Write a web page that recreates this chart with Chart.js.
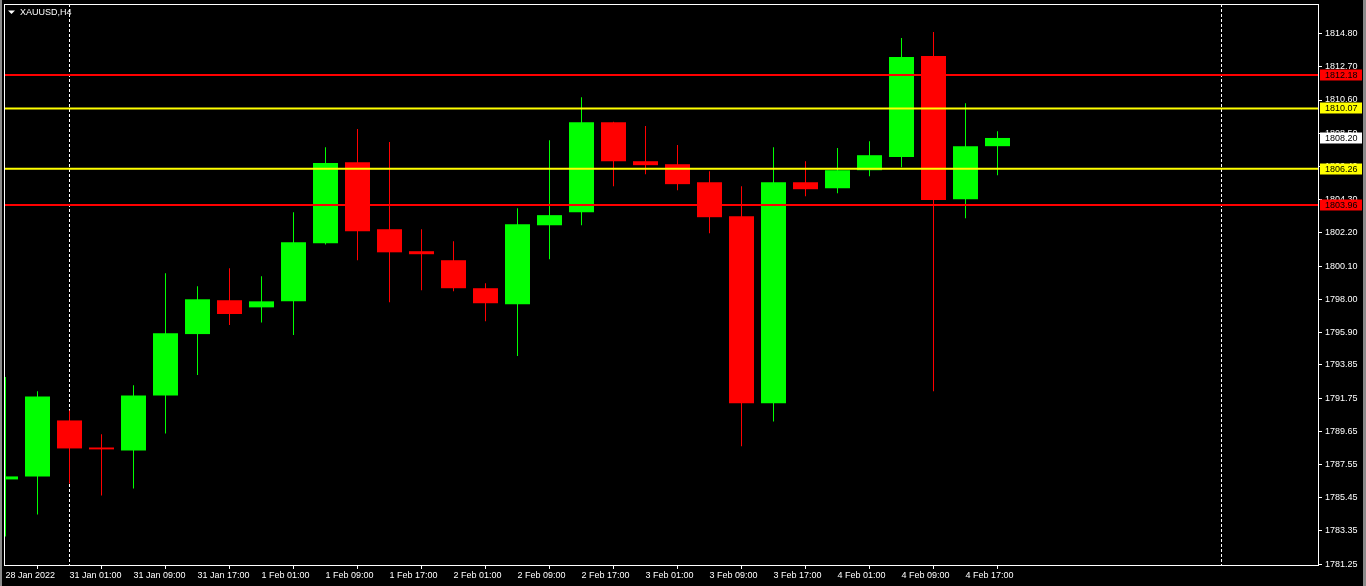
<!DOCTYPE html>
<html>
<head>
<meta charset="utf-8">
<script src="https://cdn.jsdelivr.net/npm/chart.js@4.4.0/dist/chart.umd.min.js"></script>
<style>
html,body{margin:0;padding:0;background:#000;overflow:hidden}
canvas{display:block}
</style>
</head>
<body>
<canvas id="c" width="1366" height="586"></canvas>
<script>
// ---- data ----
const symbolTitle = 'XAUUSD,H4';
const candleIndex = [0,1,2,3,4,5,6,7,8,9,10,11,12,13,14,15,16,17,18,19,20,21,22,23,24,25,26,27,28,29,30,31];
const opens  = [1786.61,1786.80,1790.34,1788.63,1788.44,1791.92,1795.80,1797.94,1797.49,1797.87,1801.54,1806.67,1802.43,1801.04,1800.47,1798.70,1797.68,1802.68,1803.51,1809.20,1806.73,1806.54,1805.40,1803.25,1791.42,1805.40,1805.02,1806.16,1806.99,1813.38,1804.33,1807.68];
const highs  = [1793.08,1792.18,1790.97,1789.46,1792.56,1799.65,1798.82,1799.96,1799.46,1803.51,1807.62,1808.76,1807.94,1802.43,1801.67,1799.01,1803.76,1808.06,1810.78,1809.22,1808.95,1807.75,1806.10,1805.15,1807.62,1806.73,1807.56,1808.00,1814.52,1814.90,1810.40,1808.63];
const lows   = [1783.00,1784.39,1786.35,1785.59,1786.04,1789.52,1793.21,1796.37,1796.54,1795.74,1801.46,1800.47,1797.81,1798.57,1798.51,1796.61,1794.41,1800.53,1802.68,1805.15,1805.91,1804.90,1802.18,1788.71,1790.28,1804.52,1804.71,1805.78,1806.35,1792.18,1803.13,1805.85];
const closes = [1786.80,1791.86,1788.57,1788.51,1791.92,1795.85,1798.00,1797.07,1797.87,1801.61,1806.61,1802.30,1800.97,1800.85,1798.70,1797.75,1802.75,1803.32,1809.20,1806.73,1806.48,1805.28,1803.19,1791.42,1805.40,1804.96,1806.16,1807.11,1813.32,1804.27,1807.68,1808.20];

const xTickIndex  = [0,2,4,6,8,10,12,14,16,18,20,22,24,26,28,30];
const xTickLabels = ['28 Jan 2022','31 Jan 01:00','31 Jan 09:00','31 Jan 17:00','1 Feb 01:00','1 Feb 09:00','1 Feb 17:00','2 Feb 01:00','2 Feb 09:00','2 Feb 17:00','3 Feb 01:00','3 Feb 09:00','3 Feb 17:00','4 Feb 01:00','4 Feb 09:00','4 Feb 17:00'];
const yTickValues = [1814.80,1812.70,1810.60,1808.50,1806.40,1804.30,1802.20,1800.10,1798.00,1795.90,1793.85,1791.75,1789.65,1787.55,1785.45,1783.35,1781.25];

const levelValues = [1812.18,1810.07,1806.26,1803.96];
const levelColors = ['#ff0000','#ffff00','#ffff00','#ff0000'];
const bidPrice = 1808.20;
const separatorIndex = [2,38];

// ---- axis ranges ----
const X_MIN = -0.046875, X_MAX = 41.015625;
const Y_MIN = 1781.20, Y_MAX = 1816.67;

const UP = '#00ff00', DOWN = '#ff0000';
const FONT = {family: "'Liberation Sans', Arial, sans-serif", size: 9};
const candleColors = candleIndex.map((_, i) => closes[i] >= opens[i] ? UP : DOWN);

const levelDatasets = levelValues.map((v, k) => ({
  type: 'line',
  data: [{x: X_MIN, y: v}, {x: X_MAX, y: v}],
  borderColor: levelColors[k],
  borderWidth: 2,
  pointRadius: 0,
  tension: 0,
  order: 0
}));

const bodyDataset = {
  type: 'bar',
  data: candleIndex.map((x, i) => ({x: x, y: [opens[i], closes[i]]})),
  backgroundColor: candleColors,
  borderWidth: 0,
  barThickness: 25,
  grouped: false,
  inflateAmount: 0,
  minBarLength: 1,
  order: 1
};
const wickDataset = {
  type: 'bar',
  data: candleIndex.map((x, i) => ({x: x, y: [lows[i], highs[i]]})),
  backgroundColor: candleColors,
  borderWidth: 0,
  barThickness: 1,
  grouped: false,
  inflateAmount: 0,
  order: 2
};

function tag(ctx, y, bg, text) {
  ctx.fillStyle = bg;
  ctx.fillRect(1320, Math.round(y) - 5.5, 42, 11);
  ctx.fillStyle = '#000';
  ctx.font = "9px 'Liberation Sans', Arial, sans-serif";
  ctx.textAlign = 'left';
  ctx.textBaseline = 'middle';
  ctx.fillText(text, 1325, Math.round(y) + 0.5);
}

const mtPlugin = {
  id: 'mt',
  beforeDraw(chart) {
    const ctx = chart.ctx;
    ctx.save();
    ctx.fillStyle = '#000';
    ctx.fillRect(0, 0, chart.width, chart.height);
    ctx.restore();
  },
  beforeDatasetsDraw(chart) {
    const ctx = chart.ctx, a = chart.chartArea, xs = chart.scales.x;
    ctx.save();
    ctx.strokeStyle = '#ffffff';
    ctx.lineWidth = 1;
    ctx.setLineDash([3, 2]);
    separatorIndex.forEach(i => {
      const px = Math.floor(xs.getPixelForValue(i)) + 0.5;
      ctx.beginPath();
      ctx.moveTo(px, a.top);
      ctx.lineTo(px, a.bottom);
      ctx.stroke();
    });
    ctx.restore();
  },
  afterDraw(chart) {
    const ctx = chart.ctx, a = chart.chartArea, ys = chart.scales.y;
    ctx.save();
    // frame
    ctx.strokeStyle = '#ffffff';
    ctx.lineWidth = 1;
    ctx.strokeRect(a.left + 0.5, a.top + 0.5, a.right - a.left, a.bottom - a.top);
    // window edges
    ctx.fillStyle = '#8a8a8a';
    ctx.fillRect(0, 0, 2, chart.height);
    ctx.fillRect(1363, 0, 3, chart.height);
    // price tags
    levelValues.forEach((v, k) => tag(ctx, ys.getPixelForValue(v), levelColors[k], v.toFixed(2)));
    tag(ctx, ys.getPixelForValue(bidPrice), '#ffffff', bidPrice.toFixed(2));
    // title
    ctx.fillStyle = '#ffffff';
    ctx.beginPath();
    ctx.moveTo(8, 10.5); ctx.lineTo(15, 10.5); ctx.lineTo(11.5, 14);
    ctx.closePath(); ctx.fill();
    ctx.font = "9px 'Liberation Sans', Arial, sans-serif";
    ctx.textAlign = 'left';
    ctx.textBaseline = 'middle';
    ctx.fillText(symbolTitle, 20, 12.5);
    ctx.restore();
  }
};

function noPad(s) { s.paddingTop = 0; s.paddingBottom = 0; s.paddingLeft = 0; s.paddingRight = 0; }

new Chart(document.getElementById('c'), {
  type: 'bar',
  data: { datasets: [...levelDatasets, bodyDataset, wickDataset] },
  options: {
    responsive: false,
    devicePixelRatio: 1,
    animation: false,
    events: [],
    layout: { padding: { left: 4, top: 4, right: 0, bottom: 0 } },
    plugins: { legend: { display: false }, tooltip: { enabled: false } },
    scales: {
      x: {
        type: 'linear',
        position: 'bottom',
        min: X_MIN, max: X_MAX,
        offset: false,
        afterFit(s) { s.height = 21; noPad(s); },
        afterBuildTicks(s) { s.ticks = xTickIndex.map(v => ({value: v})); },
        ticks: {
          autoSkip: false, maxRotation: 0, minRotation: 0, align: 'start',
          padding: 1, color: '#ffffff', font: FONT,
          callback(v) { const k = xTickIndex.indexOf(v); return k >= 0 ? xTickLabels[k] : ''; }
        },
        grid: { drawOnChartArea: false, drawTicks: true, tickLength: 4, color: '#ffffff', lineWidth: 1 },
        border: { display: false }
      },
      y: {
        type: 'linear',
        position: 'right',
        min: Y_MIN, max: Y_MAX,
        afterFit(s) { s.width = 48; noPad(s); },
        afterBuildTicks(s) { s.ticks = yTickValues.map(v => ({value: v})); },
        ticks: {
          autoSkip: false, padding: 3, color: '#ffffff', font: FONT,
          callback(v) { return Number(v).toFixed(2); }
        },
        grid: { drawOnChartArea: false, drawTicks: true, tickLength: 4, color: '#ffffff', lineWidth: 1 },
        border: { display: false }
      }
    }
  },
  plugins: [mtPlugin]
});
</script>
</body>
</html>
